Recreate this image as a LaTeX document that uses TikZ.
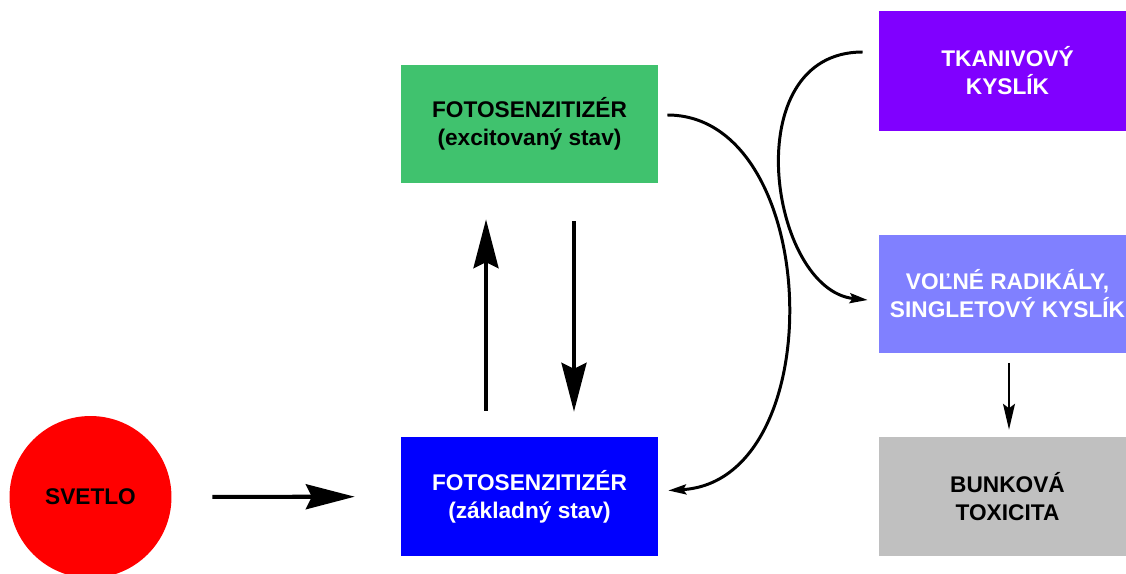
\documentclass[tikz,border=0pt]{standalone}
\usepackage{fontspec}
\setmainfont{Liberation Sans}
\usetikzlibrary{arrows.meta}

\definecolor{excgreen}{RGB}{64,194,110}
\definecolor{gndblue}{RGB}{0,0,255}
\definecolor{oxpurple}{RGB}{128,0,255}
\definecolor{radlilac}{RGB}{128,128,255}
\definecolor{toxgray}{RGB}{192,192,192}
\definecolor{lightred}{RGB}{255,0,0}

\begin{document}
\begin{tikzpicture}[
       x=0.02cm, y=-0.02cm,
       box/.style={rectangle, minimum width=5.14cm, minimum height=2.38cm, inner sep=0pt, align=center, font=\fontsize{12.9}{16}\selectfont\bfseries},
       bigarrow/.style={-{Stealth[length=27.8pt, width=14.2pt, inset=3.4pt]}, line width=2.3pt, black},
       curvearrow/.style={-{Stealth[length=10.2pt, width=5.7pt, inset=1.7pt]}, line width=1.7pt, black},
       smallarrow/.style={-{Stealth[length=14.7pt, width=6.8pt, inset=2.5pt]}, line width=1.1pt, black}
   ]
   \useasboundingbox (0,0) rectangle (1126,574);

   \node[circle, fill=lightred, minimum size=3.24cm, inner sep=0pt, font=\fontsize{12.9}{16}\selectfont\bfseries] (svetlo) at (90.5,497) {SVETLO};
   \node[box, fill=excgreen] (excited) at (529.5,124) {FOTOSENZITIZÉR\\(excitovaný stav)};
   \node[box, fill=gndblue, text=white] (ground) at (529.5,496.5) {FOTOSENZITIZÉR\\(základný stav)};
   \node[box, fill=oxpurple, text=white, minimum height=2.4cm] (kyslik) at (1007.5,71) {TKANIVOVÝ\\KYSLÍK};
   \node[box, fill=radlilac, text=white] (radikaly) at (1007.5,294) {VOĽNÉ RADIKÁLY,\\SINGLETOVÝ KYSLÍK};
   \node[box, fill=toxgray] (toxicita) at (1007.5,496.5) {BUNKOVÁ\\TOXICITA};

   \draw[bigarrow, shorten <=0.81cm, shorten >=0.92cm] (svetlo) -- (ground);
   \draw[bigarrow, shorten <=0.52cm, shorten >=0.71cm] ([xshift=-0.87cm]ground.north) -- ([xshift=-0.87cm]excited.south);
   \draw[bigarrow, shorten <=0.75cm, shorten >=0.5cm] ([xshift=0.89cm]excited.south) -- ([xshift=0.89cm]ground.north);
   \draw[curvearrow] ([shift={(9,-9)}]excited.east) .. controls +(155,0) and +(165,-10) .. ([shift={(10,-6)}]ground.east);
   \draw[curvearrow] ([shift={(-16,-19)}]kyslik.west) .. controls +(-128,0) and +(-98,-10) .. ([shift={(-11,6)}]radikaly.west);
   \draw[smallarrow, shorten <=0.18cm, shorten >=0.14cm] ([xshift=0.03cm]radikaly.south) -- ([xshift=0.03cm]toxicita.north);
   \end{tikzpicture}
\end{document}
